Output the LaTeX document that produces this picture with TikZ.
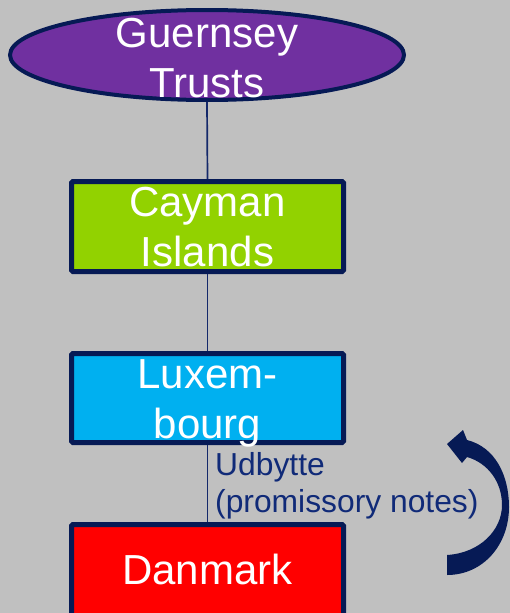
\documentclass[tikz,border=0pt]{standalone}
\usepackage{fontspec}
\setmainfont{Liberation Sans}
\usetikzlibrary{shapes.geometric}
\definecolor{bg}{HTML}{C0C0C0}
\definecolor{navy}{HTML}{061A55}
\definecolor{linenavy}{HTML}{14286A}
\definecolor{labnavy}{HTML}{102A78}
\definecolor{purp}{HTML}{7030A0}
\definecolor{caygreen}{HTML}{92D200}
\definecolor{luxcyan}{HTML}{00B0F0}
\definecolor{dkred}{HTML}{FF0000}
\tikzset{
  box/.style={draw=navy, line width=5pt, rounded corners=1.5pt, minimum width=272pt, inner sep=0pt},
  bigtext/.style={text=white, font=\fontsize{42}{50}\selectfont, align=center, anchor=base, inner sep=0pt},
  conn/.style={draw=linenavy, line width=1.7pt},
  labtext/.style={text=labnavy, font=\fontsize{31.8}{37}\selectfont, align=left, anchor=base west, inner sep=0pt}
}
\begin{document}
\begin{tikzpicture}[x=1pt, y=-1pt]
\useasboundingbox (0,0) rectangle (510,613);
\clip (0,0) rectangle (510,613);
\fill[bg] (0,0) rectangle (510,613);
% shapes
\node[ellipse, draw=navy, line width=4pt, fill=purp, minimum width=394pt, minimum height=90pt, inner sep=0pt] (g) at (207,55) {};
\node[box, fill=caygreen, minimum height=90pt] (c) at (207.5,226.5) {};
\node[box, fill=luxcyan, minimum height=89pt] (l) at (207.5,398) {};
\node[box, fill=dkred, minimum height=100pt] (d) at (207.5,574.5) {};
% connectors
\draw[conn] (g.south) -- (c.north);
\draw[conn] (c.south) -- (l.north);
\draw[conn] (l.south) -- (d.north);
% texts (base anchor = baseline of last line)
\node[bigtext] (gt) at (207,97) {Guernsey\\Trusts};
\node[bigtext] (ct) at (207.5,266.5) {Cayman\\Islands};
\node[bigtext] (lt) at (207.5,438) {Luxem-\\bourg};
\node[bigtext] (dt) at (207.5,584) {Danmark};
\node[labtext] (lab) at (215,512) {Udbytte\\(promissory notes)};
% curved arrow
\fill[navy] (447,555) .. controls (480,553) and (502,530) .. (502,505)
  .. controls (502,482) and (488,463) .. (467,457)
  -- (462,463) -- (447,444) -- (463,430) -- (467,440)
  .. controls (495,447) and (509,475) .. (509,507)
  .. controls (509,545) and (483,575) .. (447,575) -- cycle;
\end{tikzpicture}
\end{document}
